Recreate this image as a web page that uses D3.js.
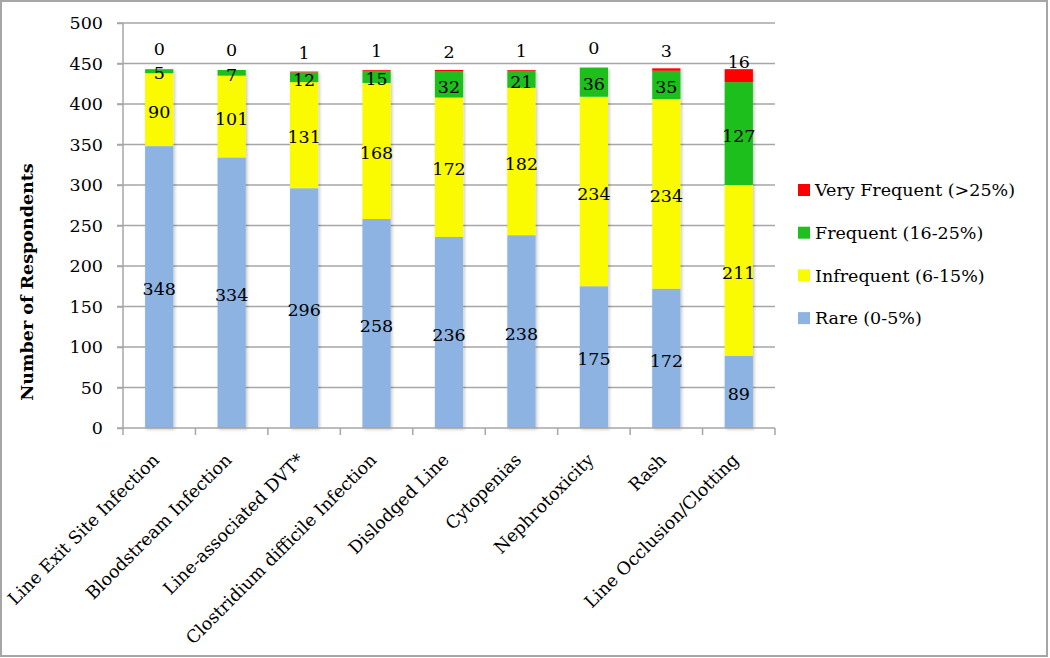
<!DOCTYPE html>
<html>
<head>
<meta charset="utf-8">
<script src="https://cdn.jsdelivr.net/npm/d3@7"></script>
<style>
  html, body { margin: 0; padding: 0; background: #fff; }
  svg { display: block; }
  text { font-family: "DejaVu Serif", serif; fill: #000; }
</style>
</head>
<body>
<svg id="chart" width="1050" height="658"></svg>
<script>
const categories = [
  "Line Exit Site Infection",
  "Bloodstream Infection",
  "Line-associated DVT*",
  "Clostridium difficile Infection",
  "Dislodged Line",
  "Cytopenias",
  "Nephrotoxicity",
  "Rash",
  "Line Occlusion/Clotting"
];
const rare         = [348, 334, 296, 258, 236, 238, 175, 172, 89];
const infrequent   = [90, 101, 131, 168, 172, 182, 234, 234, 211];
const frequent     = [5, 7, 12, 15, 32, 21, 36, 35, 127];
const veryFrequent = [0, 0, 1, 1, 2, 1, 0, 3, 16];
const seriesNames  = ["Rare (0-5%)", "Infrequent (6-15%)", "Frequent (16-25%)", "Very Frequent (>25%)"];
const seriesColors = ["#8DB3E2", "#FAFA00", "#1FBF1F", "#FF0000"];
const yTicks = [0, 50, 100, 150, 200, 250, 300, 350, 400, 450, 500];
const yTitle = "Number of Respondents";

const svg = d3.select("#chart");
const fontSize = 17.5;

const defs = svg.append("defs");
const f = defs.append("filter").attr("id", "shadow").attr("x", "-20%").attr("y", "-5%").attr("width", "150%").attr("height", "115%");
f.append("feDropShadow").attr("dx", 1.5).attr("dy", 1.5).attr("stdDeviation", 1.5)
  .attr("flood-color", "#000").attr("flood-opacity", 0.22);

// outer border
svg.append("rect").attr("x", 1).attr("y", 1).attr("width", 1046).attr("height", 655)
  .attr("fill", "none").attr("stroke", "#a6a6a6").attr("stroke-width", 2);

const pL = 123, pR = 775, pT = 23, pB = 428;
const x = d3.scaleBand().domain(categories).range([pL, pR]).paddingInner(0.61).paddingOuter(0.305);
const xb = d3.scaleBand().domain(categories).range([pL, pR]);
const y = d3.scaleLinear().domain([0, 500]).range([pB, pT]);

// gridlines
svg.append("g").selectAll("line").data(yTicks.filter(d => d > 0)).join("line")
  .attr("x1", pL - 6).attr("x2", pR).attr("y1", d => y(d)).attr("y2", d => y(d))
  .attr("stroke", "#a6a6a6").attr("stroke-width", 1.5);

// stacked data
const table = categories.map((c, i) => ({
  cat: c, s0: rare[i], s1: infrequent[i], s2: frequent[i], s3: veryFrequent[i]
}));
const stacked = d3.stack().keys(["s0", "s1", "s2", "s3"])(table);

const g = svg.append("g").attr("filter", "url(#shadow)");
stacked.forEach((layer, li) => {
  g.append("g").selectAll("rect").data(layer).join("rect")
    .attr("x", d => x(d.data.cat))
    .attr("width", x.bandwidth())
    .attr("y", d => y(d[1]))
    .attr("height", d => y(d[0]) - y(d[1]))
    .attr("fill", seriesColors[li]);
});

// axes
const yAxis = d3.axisLeft(y).tickValues(yTicks).tickSize(6).tickPadding(14);
const ya = svg.append("g").attr("transform", `translate(${pL},0)`).call(yAxis);
ya.select(".domain").attr("stroke", "#a6a6a6").attr("stroke-width", 1.5).attr("d", `M0,${pT}V${pB}`);
ya.selectAll(".tick line").attr("stroke", "#a6a6a6").attr("stroke-width", 1.5);
ya.selectAll(".tick text").style("font-family", "DejaVu Serif").style("font-size", fontSize + "px").attr("fill", "#000");

// x axis line and ticks at band boundaries
svg.append("line").attr("x1", pL - 6).attr("x2", pR).attr("y1", pB).attr("y2", pB)
  .attr("stroke", "#a6a6a6").attr("stroke-width", 1.5);
const bounds = categories.map(c => xb(c)).concat([pR]);
svg.append("g").selectAll("line").data(bounds).join("line")
  .attr("x1", d => d).attr("x2", d => d).attr("y1", pB).attr("y2", pB + 7)
  .attr("stroke", "#a6a6a6").attr("stroke-width", 1.5);

// category labels
svg.append("g").selectAll("text").data(categories).join("text")
  .attr("transform", d => `translate(${xb(d) + xb.bandwidth() / 2 + 1},${pB + 33}) rotate(-45)`)
  .attr("text-anchor", "end")
  .style("font-size", fontSize + "px")
  .text(d => d);

// value labels
stacked.forEach((layer, li) => {
  svg.append("g").selectAll("text").data(layer).join("text")
    .attr("x", d => x(d.data.cat) + x.bandwidth() / 2)
    .attr("y", d => li === 3 ? y(d[0]) - 20 : y((d[0] + d[1]) / 2) + 2)
    .attr("dy", "0.36em")
    .attr("text-anchor", "middle")
    .style("font-size", fontSize + "px")
    .text(d => d[1] - d[0]);
});

// y title
svg.append("text")
  .attr("transform", `translate(27,282) rotate(-90)`)
  .attr("text-anchor", "middle")
  .attr("dy", "0.35em")
  .style("font-size", fontSize + "px")
  .style("font-weight", "bold")
  .text(yTitle);

// legend
const legendOrder = [3, 2, 1, 0];
const lg = svg.append("g");
legendOrder.forEach((si, k) => {
  const ly = 190 + k * 42.7;
  lg.append("rect").attr("x", 798).attr("y", ly - 6).attr("width", 12).attr("height", 12).attr("fill", seriesColors[si]);
  lg.append("text").attr("x", 815).attr("y", ly).attr("dy", "0.36em")
    .style("font-size", fontSize + "px").text(seriesNames[si]);
});
</script>
</body>
</html>
